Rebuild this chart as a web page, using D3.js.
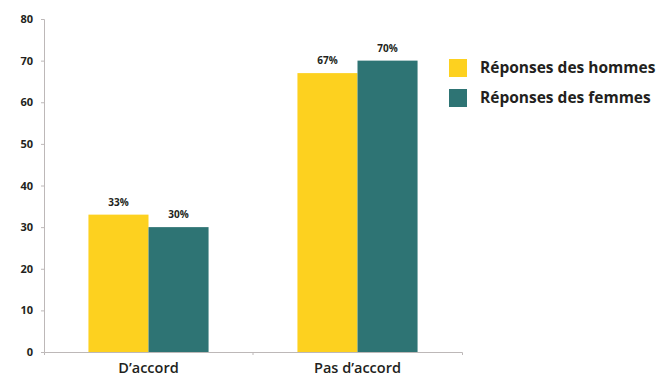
<!DOCTYPE html>
<html>
<head>
<meta charset="utf-8">
<script src="https://cdn.jsdelivr.net/npm/d3@7/dist/d3.min.js"></script>
<style>
  html, body { margin: 0; padding: 0; background: #fff; }
  svg { display: block; }
</style>
</head>
<body>
<svg id="chart" width="659" height="378"></svg>
<script>
// Categories and series
const categories = ["D\u2019accord", "Pas d\u2019accord"];
const seriesNames = ["Réponses des hommes", "Réponses des femmes"];
const hommes = [33, 67];
const femmes = [30, 70];
const yTicks = [0, 10, 20, 30, 40, 50, 60, 70, 80];
const colors = ["#fdd11f", "#2e7474"];

const svg = d3.select("#chart");
const margin = { left: 44, right: 197, top: 19, bottom: 26 };
const W = 659, H = 378;
const plotW = W - margin.left - margin.right;
const plotH = H - margin.top - margin.bottom;

const g = svg.append("g").attr("transform", `translate(${margin.left},${margin.top})`);

const x0 = d3.scaleBand().domain(categories).range([0, plotW]).paddingInner(0).paddingOuter(0);
// two bars side by side, together taking ~57% of each category band
const x1 = d3.scaleBand().domain(seriesNames).range([0, x0.bandwidth()]).paddingInner(0).paddingOuter(0.74);
const y = d3.scaleLinear().domain([0, 80]).range([plotH, 0]);

const seriesValues = [hommes, femmes];

// Y axis
const yAxis = g.append("g")
  .call(d3.axisLeft(y).tickValues(yTicks).tickSize(3).tickPadding(8).tickFormat(d3.format("d")));
yAxis.select(".domain").attr("stroke", "#bdb8b8");
yAxis.selectAll(".tick line").attr("stroke", "#bdb8b8");
yAxis.selectAll("text")
  .attr("fill", "#231f20")
  .style("font-family", "'Open Sans', sans-serif")
  .style("font-weight", "700")
  .style("font-size", "11px");

// Bars
categories.forEach((c, ci) => {
  seriesNames.forEach((s, si) => {
    const v = seriesValues[si][ci];
    g.append("rect")
      .attr("x", x0(c) + x1(s))
      .attr("y", y(v))
      .attr("width", x1.bandwidth())
      .attr("height", plotH - y(v))
      .attr("fill", colors[si]);
    g.append("text")
      .attr("x", x0(c) + x1(s) + x1.bandwidth() / 2)
      .attr("y", y(v) - 9)
      .attr("text-anchor", "middle")
      .attr("fill", "#231f20")
      .style("font-family", "'Open Sans', sans-serif")
      .style("font-weight", "700")
      .style("font-size", "10px")
      .text(v + "%");
  });
});

// X axis
const xAxis = g.append("g")
  .attr("transform", `translate(0,${plotH})`)
  .call(d3.axisBottom(x0).tickSize(0).tickSizeOuter(3).tickPadding(11));
xAxis.select(".domain").attr("stroke", "#bdb8b8").attr("fill", "none");
xAxis.selectAll("text")
  .attr("fill", "#231f20")
  .style("font-family", "'Open Sans', sans-serif")
  .style("font-weight", "600")
  .style("font-size", "14.5px");
// category separator ticks
g.append("g").selectAll("line")
  .data(categories.slice(1))
  .join("line")
  .attr("x1", d => x0(d)).attr("x2", d => x0(d))
  .attr("y1", plotH).attr("y2", plotH + 3)
  .attr("stroke", "#bdb8b8");

// Legend
const legend = svg.append("g").attr("transform", "translate(449,59)");
seriesNames.forEach((s, i) => {
  const row = legend.append("g").attr("transform", `translate(0,${i * 30})`);
  row.append("rect").attr("width", 18).attr("height", 18).attr("fill", colors[i]);
  row.append("text")
    .attr("x", 31).attr("y", 9).attr("dy", "0.35em")
    .attr("fill", "#231f20")
    .style("font-family", "'Open Sans', sans-serif")
    .style("font-weight", "700")
    .style("font-size", "15.5px")
    .text(s);
});
</script>
</body>
</html>
